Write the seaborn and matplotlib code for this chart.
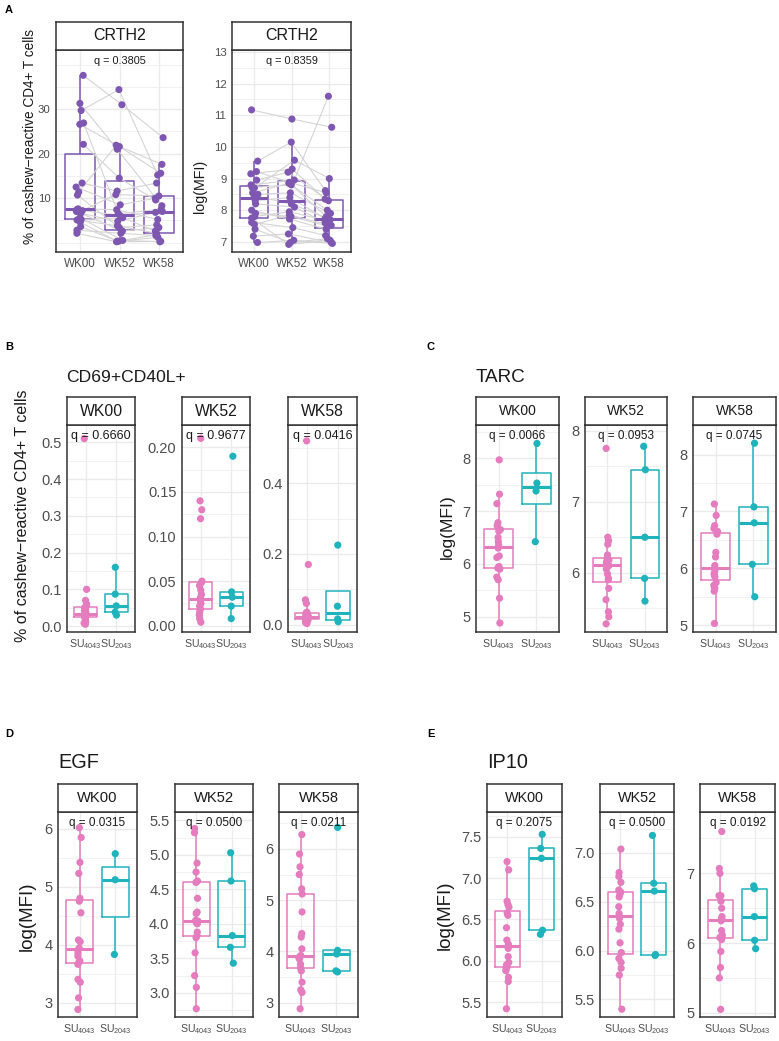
import numpy as np
import pandas as pd
import seaborn as sns
import matplotlib
matplotlib.use("Agg")
import matplotlib.pyplot as plt
from matplotlib.ticker import StrMethodFormatter

# ---------------- data ----------------
weeks = ["WK00", "WK52", "WK58"]
groups = ["SU4043", "SU2043"]
group_labels = [r"$\mathregular{SU_{4043}}$", r"$\mathregular{SU_{2043}}$"]

# panel A: CRTH2, same subjects at each week (subject order)
crth2_pct_wk00 = [7.4, 26.6, 3.6, 12.5, 5.1, 37.6, 7.0, 2.1, 22.1, 6.6, 11.4,
                  5.6, 29.7, 7.6, 2.8, 13.4, 5.2, 31.3, 7.2, 4.6, 26.9, 10.7]
crth2_pct_wk52 = [6.1, 21.6, 0.3, 8.5, 3.8, 31.0, 2.6, 0.2, 14.5, 4.8, 21.9,
                  0.5, 34.4, 7.4, 2.1, 11.6, 5.6, 21.0, 10.8, 0.3, 6.5, 3.4]
crth2_pct_wk58 = [7.0, 15.6, 1.2, 10.0, 2.1, 23.6, 3.4, 0.3, 9.6, 6.8, 17.6,
                  0.2, 15.2, 5.2, 1.6, 13.4, 2.6, 8.3, 10.5, 1.8, 7.5, 4.0]
crth2_mfi_wk00 = [11.17, 8.45, 7.4, 9.15, 8.0, 6.98, 8.8, 7.75, 9.55, 8.3, 7.18,
                  8.7, 7.9, 8.55, 7.62, 9.22, 8.2, 7.55, 8.95, 7.8, 8.5, 8.72]
crth2_mfi_wk52 = [10.88, 8.2, 6.98, 9.3, 7.72, 7.05, 8.95, 6.92, 10.15, 8.4, 7.25,
                  9.58, 7.8, 8.85, 7.45, 8.88, 8.1, 7.85, 9.2, 7.95, 8.55, 8.8]
crth2_mfi_wk58 = [10.62, 7.7, 7.1, 8.35, 7.4, 6.95, 11.6, 7.05, 8.62, 7.74, 6.98,
                  9.0, 7.5, 8.0, 7.2, 8.55, 7.6, 7.52, 8.3, 7.68, 7.9, 7.8]
crth2_q = ["q = 0.3805", "q = 0.8359"]

# panel B: CD69+CD40L+
cd69_wk00_su4043 = [0.005, 0.008, 0.012, 0.018, 0.022, 0.024, 0.026, 0.028, 0.03, 0.033,
                    0.035, 0.038, 0.042, 0.048, 0.05, 0.055, 0.06, 0.07, 0.10, 0.51]
cd69_wk00_su2043 = [0.03, 0.038, 0.055, 0.087, 0.16]
cd69_wk52_su4043 = [0.004, 0.008, 0.012, 0.015, 0.018, 0.019, 0.022, 0.025, 0.028, 0.03,
                    0.031, 0.035, 0.04, 0.045, 0.048, 0.05, 0.12, 0.13, 0.14, 0.21]
cd69_wk52_su2043 = [0.008, 0.022, 0.032, 0.038, 0.19]
cd69_wk58_su4043 = [0.003, 0.006, 0.01, 0.012, 0.015, 0.016, 0.018, 0.02, 0.021, 0.022,
                    0.023, 0.025, 0.028, 0.03, 0.033, 0.035, 0.06, 0.07, 0.17, 0.52]
cd69_wk58_su2043 = [0.008, 0.016, 0.052, 0.225]
cd69_q = ["q = 0.6660", "q = 0.9677", "q = 0.0416"]

# panel C: TARC
tarc_wk00_su4043 = [4.88, 5.35, 5.7, 5.75, 5.9, 5.92, 5.95, 6.12, 6.15, 6.3,
                    6.35, 6.42, 6.5, 6.62, 6.65, 6.72, 6.78, 7.14, 7.32, 7.97]
tarc_wk00_su2043 = [6.42, 7.38, 7.53, 8.28]
tarc_wk52_su4043 = [5.28, 5.38, 5.45, 5.62, 5.78, 5.9, 5.92, 5.98, 6.05, 6.1,
                    6.12, 6.14, 6.15, 6.18, 6.2, 6.25, 6.4, 6.45, 6.5, 7.75]
tarc_wk52_su2043 = [5.6, 5.92, 6.5, 7.45, 7.78]
tarc_wk58_su4043 = [5.03, 5.6, 5.65, 5.7, 5.75, 5.85, 5.88, 5.9, 5.95, 6.0,
                    6.05, 6.2, 6.28, 6.6, 6.65, 6.7, 6.75, 6.93, 7.13]
tarc_wk58_su2043 = [5.5, 6.07, 6.8, 7.08, 8.2]
tarc_q = ["q = 0.0066", "q = 0.0953", "q = 0.0745"]

# panel D: EGF
egf_wk00_su4043 = [2.88, 3.08, 3.35, 3.4, 3.66, 3.7, 3.72, 3.8, 3.85, 3.9,
                   3.94, 4.05, 4.08, 4.55, 4.75, 4.8, 5.23, 5.42, 5.85, 6.02]
egf_wk00_su2043 = [3.83, 5.12, 5.57]
egf_wk52_su4043 = [2.77, 3.08, 3.25, 3.58, 3.8, 3.83, 3.88, 4.0, 4.02, 4.04,
                   4.05, 4.15, 4.17, 4.37, 4.6, 4.62, 4.75, 4.88, 5.32, 5.38]
egf_wk52_su2043 = [3.43, 3.66, 3.83, 4.62, 5.03]
egf_wk58_su4043 = [2.88, 3.2, 3.25, 3.4, 3.62, 3.68, 3.75, 3.85, 3.88, 3.9, 3.92,
                   4.05, 4.28, 4.35, 4.77, 5.12, 5.22, 5.5, 5.65, 5.9, 6.28]
egf_wk58_su2043 = [3.6, 3.62, 3.95, 4.02, 6.42]
egf_q = ["q = 0.0315", "q = 0.0500", "q = 0.0211"]

# panel E: IP10
ip10_wk00_su4043 = [5.42, 5.75, 5.8, 5.88, 5.9, 5.93, 5.95, 5.98, 6.05, 6.15,
                    6.2, 6.25, 6.4, 6.55, 6.58, 6.65, 6.68, 6.72, 7.1, 7.2]
ip10_wk00_su2043 = [6.32, 6.37, 7.24, 7.36, 7.53]
ip10_wk52_su4043 = [5.4, 5.75, 5.82, 5.88, 5.92, 5.98, 6.08, 6.22, 6.27, 6.33,
                    6.38, 6.45, 6.55, 6.58, 6.6, 6.62, 6.7, 6.76, 6.8, 7.04]
ip10_wk52_su2043 = [5.95, 5.96, 6.61, 6.69, 7.18]
ip10_wk58_su4043 = [5.05, 5.5, 5.65, 5.88, 6.05, 6.08, 6.1, 6.12, 6.18, 6.32,
                    6.34, 6.35, 6.38, 6.5, 6.6, 6.68, 6.68, 7.0, 7.07, 7.6]
ip10_wk58_su2043 = [5.92, 6.04, 6.38, 6.78, 6.82]
ip10_q = ["q = 0.2075", "q = 0.0500", "q = 0.0192"]

# ---------------- style ----------------
sns.set_style("white")
plt.rcParams["font.family"] = ["Liberation Sans", "DejaVu Sans"]
plt.rcParams["mathtext.fontset"] = "custom"
plt.rcParams["mathtext.rm"] = "Liberation Sans"
plt.rcParams["mathtext.it"] = "Liberation Sans:italic"

PURPLE = "#7E57B0"
PINK = "#E47CBE"
TEAL = "#1FB3BC"
EDGE = "#333333"
TICK = "#4D4D4D"
GRID = "#EBEBEB"
TXT = "#1A1A1A"

W, H = 779, 1041
fig = plt.figure(figsize=(W / 100, H / 100), dpi=100)
np.random.seed(2)


def rect(x0, x1, y0, y1):
    return [x0 / W, 1 - y1 / H, (x1 - x0) / W, (y1 - y0) / H]


def facet(x0, x1, ys, yt, yb, label, size):
    ax = fig.add_axes(rect(x0, x1, yt, yb))
    strip = fig.add_axes(rect(x0, x1, ys, yt))
    strip.set_xticks([])
    strip.set_yticks([])
    for s in strip.spines.values():
        s.set_color(EDGE)
        s.set_linewidth(1.1)
    strip.text(0.5, 0.5, label, ha="center", va="center", fontsize=size, color=TXT)
    return ax


def finish(ax, ylim, yticks, fmt, xlabels, tsize, xsize, q, qsize):
    ax.set_xlabel("")
    ax.set_ylabel("")
    ax.set_xlim(-0.6, len(xlabels) - 0.4)
    ax.set_ylim(*ylim)
    ax.set_xticks(range(len(xlabels)), xlabels)
    ax.set_yticks(yticks)
    ax.yaxis.set_major_formatter(StrMethodFormatter(fmt))
    half = (yticks[1] - yticks[0]) / 2
    ax.set_yticks(np.arange(np.ceil(ylim[0] / half) * half, ylim[1], half), minor=True)
    ax.grid(True, which="major", color=GRID, lw=1.0)
    ax.yaxis.grid(True, which="minor", color=GRID, lw=0.5)
    ax.set_axisbelow(True)
    ax.tick_params(which="major", length=2.5, width=0.8, color=EDGE,
                   labelcolor=TICK, pad=1.5)
    ax.tick_params(axis="y", labelsize=tsize)
    ax.tick_params(axis="x", labelsize=xsize)
    ax.tick_params(which="minor", length=0)
    for s in ax.spines.values():
        s.set_color(EDGE)
        s.set_linewidth(1.1)
    h = ax.get_position().height * H
    ax.text(0.5, 1 - 11 / h, q, transform=ax.transAxes, ha="center", va="center",
            fontsize=qsize, color=TXT, zorder=10)


# ---------------- panel A ----------------
n = len(crth2_pct_wk00)
dfa = pd.DataFrame({
    "subject": list(range(n)) * 3,
    "week": [w for w in weeks for _ in range(n)],
    "pct": crth2_pct_wk00 + crth2_pct_wk52 + crth2_pct_wk58,
    "mfi": crth2_mfi_wk00 + crth2_mfi_wk52 + crth2_mfi_wk58,
})
rng = np.random.default_rng(11)
dfa["xpos"] = dfa["week"].map({w: i for i, w in enumerate(weeks)}) + rng.uniform(-0.1, 0.1, len(dfa))

a_specs = [
    ("pct", 56, 183, (-2.1, 43.3), [10, 20, 30], crth2_q[0]),
    ("mfi", 232, 351, (6.68, 13.06), [7, 8, 9, 10, 11, 12, 13], crth2_q[1]),
]
for col, x0, x1, ylim, yt, q in a_specs:
    ax = facet(x0, x1, 22, 50, 252, "CRTH2", 11.5)
    sns.boxplot(data=dfa, x="week", y=col, order=weeks, color=PURPLE, fill=False,
                width=0.75, linewidth=1.1, showcaps=False, showfliers=False,
                medianprops={"linewidth": 2.2}, ax=ax)
    sns.lineplot(data=dfa, x="xpos", y=col, units="subject", estimator=None,
                 color="#D4D4D4", lw=0.8, legend=False, ax=ax)
    sns.scatterplot(data=dfa, x="xpos", y=col, color=PURPLE, s=26, edgecolor="none",
                    legend=False, ax=ax, zorder=4)
    finish(ax, ylim, yt, "{x:.0f}", weeks, 8.2, 8.4, q, 7.8)

fig.text(30 / W, 1 - 137 / H, "% of cashew\u2212reactive CD4+ T cells", rotation=90,
         ha="center", va="center", fontsize=9.8, color=TXT)
fig.text(200 / W, 1 - 186 / H, "log(MFI)", rotation=90, ha="center", va="center",
         fontsize=10.3, color=TXT)

# ---------------- panels B-E ----------------
panels = [
    dict(letter="B", lx=5, ly=347, title="CD69+CD40L+", tx=66, ty=378, tsize=12.6,
         ylabel="% of cashew\u2212reactive CD4+ T cells", yx=23, yy=516, ysize=11.5,
         xs=[(67, 135), (182, 250), (288, 357)], ys=(397, 425, 632), ssize=11.3,
         data=[(cd69_wk00_su4043, cd69_wk00_su2043), (cd69_wk52_su4043, cd69_wk52_su2043),
               (cd69_wk58_su4043, cd69_wk58_su2043)],
         ylims=[(-0.016, 0.547), (-0.007, 0.225), (-0.021, 0.565)],
         yticks=[[0, 0.1, 0.2, 0.3, 0.4, 0.5], [0, 0.05, 0.1, 0.15, 0.2], [0, 0.2, 0.4]],
         fmts=["{x:.1f}", "{x:.2f}", "{x:.1f}"], q=cd69_q, qsize=9),
    dict(letter="C", lx=427, ly=347, title="TARC", tx=476, ty=377, tsize=13.6,
         ylabel="log(MFI)", yx=447, yy=527, ysize=12.6,
         xs=[(476, 559), (585, 667), (693, 776)], ys=(397, 425, 632), ssize=10,
         data=[(tarc_wk00_su4043, tarc_wk00_su2043), (tarc_wk52_su4043, tarc_wk52_su2043),
               (tarc_wk58_su4043, tarc_wk58_su2043)],
         ylims=[(4.71, 8.63), (5.165, 8.08), (4.88, 8.52)],
         yticks=[[5, 6, 7, 8], [6, 7, 8], [5, 6, 7, 8]],
         fmts=["{x:.0f}"] * 3, q=tarc_q, qsize=8.5),
    dict(letter="D", lx=5, ly=734, title="EGF", tx=58, ty=763, tsize=14.3,
         ylabel="log(MFI)", yx=27, yy=916, ysize=13.5,
         xs=[(58, 137), (175, 253), (279, 358)], ys=(784, 812, 1017), ssize=10.6,
         data=[(egf_wk00_su4043, egf_wk00_su2043), (egf_wk52_su4043, egf_wk52_su2043),
               (egf_wk58_su4043, egf_wk58_su2043)],
         ylims=[(2.75, 6.29), (2.65, 5.62), (2.72, 6.72)],
         yticks=[[3, 4, 5, 6], [3, 3.5, 4, 4.5, 5, 5.5], [3, 4, 5, 6]],
         fmts=["{x:.0f}", "{x:.1f}", "{x:.0f}"], q=egf_q, qsize=8.5),
    dict(letter="E", lx=427, ly=734, title="IP10", tx=487, ty=763, tsize=14.3,
         ylabel="log(MFI)", yx=445, yy=915, ysize=13.5,
         xs=[(487, 562), (600, 674), (700, 775)], ys=(784, 812, 1017), ssize=10.4,
         data=[(ip10_wk00_su4043, ip10_wk00_su2043), (ip10_wk52_su4043, ip10_wk52_su2043),
               (ip10_wk58_su4043, ip10_wk58_su2043)],
         ylims=[(5.32, 7.8), (5.32, 7.42), (4.94, 7.88)],
         yticks=[[5.5, 6, 6.5, 7, 7.5], [5.5, 6, 6.5, 7], [5, 6, 7]],
         fmts=["{x:.1f}", "{x:.1f}", "{x:.0f}"], q=ip10_q, qsize=8.5),
]

for p in panels:
    fig.text(p["tx"] / W, 1 - p["ty"] / H, p["title"], ha="left", va="center",
             fontsize=p["tsize"], color=TXT)
    fig.text(p["yx"] / W, 1 - p["yy"] / H, p["ylabel"], rotation=90, ha="center",
             va="center", fontsize=p["ysize"], color=TXT)
    for i, wk in enumerate(weeks):
        su4043, su2043 = p["data"][i]
        d = pd.DataFrame({"group": [groups[0]] * len(su4043) + [groups[1]] * len(su2043),
                          "value": su4043 + su2043})
        x0, x1 = p["xs"][i]
        ax = facet(x0, x1, *p["ys"], wk, p["ssize"])
        sns.boxplot(data=d, x="group", y="value", hue="group", order=groups,
                    hue_order=groups, palette=[PINK, TEAL], fill=False, width=0.75,
                    linewidth=1.1, showcaps=False, showfliers=False,
                    medianprops={"linewidth": 2.2}, legend=False, ax=ax)
        sns.stripplot(data=d, x="group", y="value", hue="group", order=groups,
                      hue_order=groups, palette=[PINK, TEAL], jitter=0.05, size=5.2,
                      legend=False, ax=ax, zorder=4)
        finish(ax, p["ylims"][i], p["yticks"][i], p["fmts"][i], group_labels,
               10.5, 7.6, p["q"][i], p["qsize"])

for letter, lx, ly in [("A", 5, 10)] + [(p["letter"], p["lx"], p["ly"]) for p in panels]:
    fig.text(lx / W, 1 - ly / H, letter, ha="left", va="center", fontsize=8,
             fontweight="bold", color="black")

fig.savefig("out.png", dpi=100)
